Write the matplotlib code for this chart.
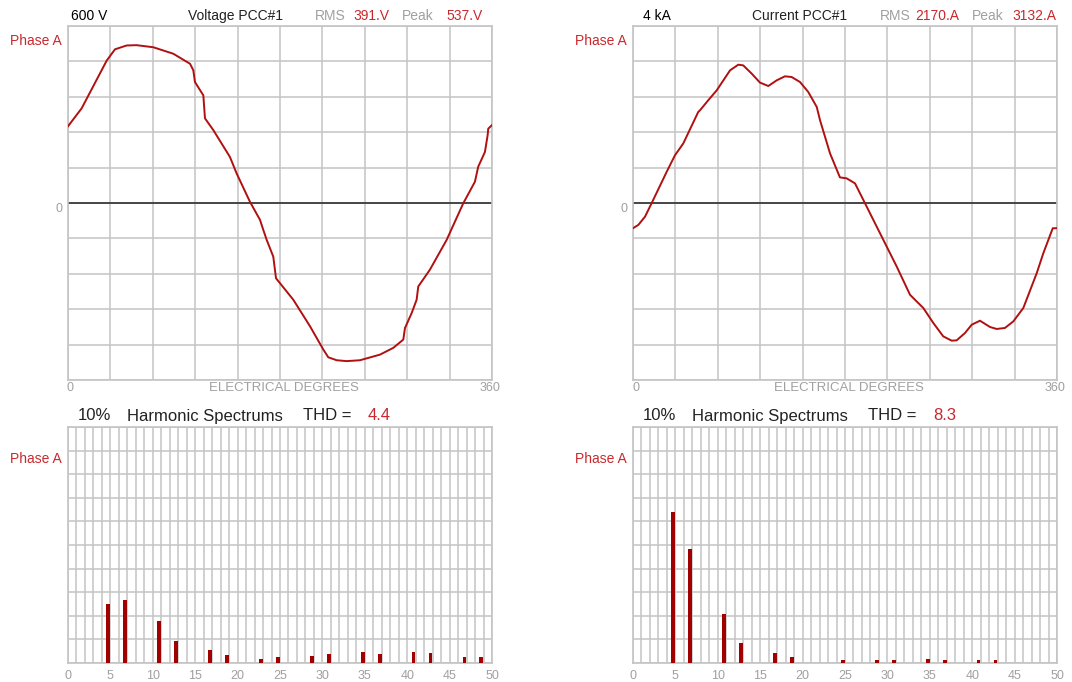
import numpy as np
import matplotlib.pyplot as plt

plt.rcParams['font.family'] = ['Liberation Sans', 'DejaVu Sans']

# waveform samples (degrees, volts / amps)
volt_deg = [0, 11.6, 32.9, 39.9, 49.8, 58.3, 72.4, 89.4, 103.6, 106.4, 107.8, 114.9, 116.3,
            123.4, 137.5, 143.2, 154.5, 163, 165.8, 168.7, 174.3, 176.6, 191.3, 205.5,
            216.8, 221, 228.1, 236.6, 247.9, 264.9, 276.2, 284.7, 286.1, 291.8, 296, 297.4,
            307.3, 321.5, 335.6, 345.5, 348.3, 354, 356.3, 356.8, 360]
volt_val = [260, 321, 483, 521, 534, 535, 528, 506, 472, 450, 410, 365, 287,
            247, 156, 100, 4, -57, -91, -125, -182, -255, -328, -418,
            -497, -523, -533, -536, -533, -514, -491, -463, -424, -373, -328, -283,
            -226, -125, -1, 72, 123, 173, 230, 252, 264]

curr_deg = [0, 4.5, 10.2, 15.9, 28.6, 35.7, 42.7, 55.4, 56.9, 63.9, 71.1, 82.4, 89.4, 93.6,
            100.8, 107.8, 114.9, 122, 129, 134.7, 141.8, 148.8, 156, 158.8, 167.3, 175.7,
            181.4, 188.5, 197, 215.4, 223.9, 235.2, 239.4, 246.5, 255, 263.4, 270.6, 274.8,
            281.9, 287.6, 294.6, 303.1, 308.8, 315.8, 322.9, 331.4, 342.8, 348.4, 356.4, 360]
curr_val = [-570, -496, -309, 0, 705, 1082, 1346, 2058, 2096, 2322, 2547, 2998, 3126, 3110,
            2923, 2721, 2644, 2772, 2863, 2847, 2734, 2509, 2171, 1871, 1120, 579,
            557, 444, -7, -985, -1436, -2074, -2186, -2373, -2712, -3014, -3111, -3104,
            -2937, -2750, -2660, -2802, -2847, -2824, -2676, -2373, -1585, -1134, -570, -570]

# harmonic spectra (% of fundamental)
volt_orders = [5, 7, 11, 13, 17, 19, 23, 25, 29, 31, 35, 37, 41, 43, 47, 49]
volt_pct = [2.51, 2.65, 1.76, 0.92, 0.57, 0.33, 0.17, 0.27, 0.31, 0.37, 0.47, 0.37,
            0.47, 0.42, 0.27, 0.27]
curr_orders = [5, 7, 11, 13, 17, 19, 25, 29, 31, 35, 37, 41, 43]
curr_pct = [6.41, 4.82, 2.08, 0.83, 0.44, 0.24, 0.13, 0.13, 0.13, 0.18, 0.13, 0.13, 0.13]

W, H = 1072, 682
RED = '#c8282d'
LINE = '#b01010'
BAR = '#a00000'
GRID = '#c4c4c4'
GRAY = '#a0a0a0'

fig = plt.figure(figsize=(W / 100, H / 100), dpi=100, facecolor='white')


def rect(l, t, r, b):
    return [l / W, 1 - b / H, (r - l) / W, (b - t) / H]


def ftext(px, py, s, **kw):
    fig.text(px / W, 1 - py / H, s, va='center', **kw)


def style(ax):
    ax.tick_params(length=0, which='both')
    ax.grid(True, which='both', color=GRID, linewidth=1.1)
    ax.set_axisbelow(True)
    for sp in ax.spines.values():
        sp.set_color(GRID)
        sp.set_linewidth(1.2)


def wave_panel(box, deg, val, top):
    ax = fig.add_axes(box)
    ax.plot(deg, val, color=LINE, linewidth=1.4, zorder=3)
    ax.axhline(0, color='#222222', linewidth=1.1, zorder=2)
    ax.set_xlim(0, 360)
    ax.set_ylim(-top, top)
    ax.set_xticks(np.arange(0, 361, 36))
    ax.set_yticks(np.linspace(-top, top, 11))
    ax.set_xticklabels([])
    ax.set_yticklabels([])
    style(ax)
    return ax


def spec_panel(box, orders, pct):
    ax = fig.add_axes(box)
    ax.bar(np.array(orders) - 0.25, pct, width=0.45, color=BAR, zorder=3)
    ax.set_xlim(0, 50)
    ax.set_ylim(0, 10)
    ax.set_xticks(np.arange(0, 51, 5))
    ax.set_xticks(np.arange(0, 51, 1), minor=True)
    ax.set_yticks(np.arange(0, 11, 1))
    ax.set_yticklabels([])
    ax.tick_params(axis='x', colors=GRAY, labelsize=9, pad=5)
    style(ax)
    return ax


wave_panel(rect(68, 26, 492, 380), volt_deg, volt_val, 600)
wave_panel(rect(633, 26, 1057, 380), curr_deg, curr_val, 4000)
spec_panel(rect(68, 427, 492, 663), volt_orders, volt_pct)
spec_panel(rect(633, 427, 1057, 663), curr_orders, curr_pct)

# headers of the waveform panels
ftext(71, 16, '600 V', color='black', fontsize=10)
ftext(235, 16, 'Voltage PCC#1', color='#222222', fontsize=10, ha='center')
ftext(315, 16, 'RMS', color=GRAY, fontsize=10)
ftext(353, 16, '391.V', color=RED, fontsize=10)
ftext(402, 16, 'Peak', color=GRAY, fontsize=10)
ftext(446, 16, '537.V', color=RED, fontsize=10)

ftext(643, 16, '4 kA', color='black', fontsize=10)
ftext(800, 16, 'Current PCC#1', color='#222222', fontsize=10, ha='center')
ftext(880, 16, 'RMS', color=GRAY, fontsize=10)
ftext(915, 16, '2170.A', color=RED, fontsize=10)
ftext(972, 16, 'Peak', color=GRAY, fontsize=10)
ftext(1012, 16, '3132.A', color=RED, fontsize=10)

for x_right in (62, 627):
    ftext(x_right, 41, 'Phase A', color=RED, fontsize=10, ha='right')
    ftext(x_right, 459, 'Phase A', color=RED, fontsize=10, ha='right')

for x0, mid, x1 in ((70, 284, 490), (636, 849, 1055)):
    ftext(x0, 388, '0', color=GRAY, fontsize=9, ha='center')
    ftext(mid, 388, 'ELECTRICAL DEGREES', color=GRAY, fontsize=9.5, ha='center')
    ftext(x1, 388, '360', color=GRAY, fontsize=9, ha='center')

ftext(59, 209, '0', color=GRAY, fontsize=9, ha='center')
ftext(624, 209, '0', color=GRAY, fontsize=9, ha='center')

# headers of the spectrum panels
for x10, xh, xt, xv, thd in ((78, 127, 303, 368, '4.4'), (643, 692, 868, 933, '8.3')):
    ftext(x10, 416, '10%', color='#222222', fontsize=12)
    ftext(xh, 416, 'Harmonic Spectrums', color='#222222', fontsize=12)
    ftext(xt, 416, 'THD =', color='#222222', fontsize=12)
    ftext(xv, 416, thd, color=RED, fontsize=12)

fig.savefig('out.png', dpi=100, facecolor='white')
